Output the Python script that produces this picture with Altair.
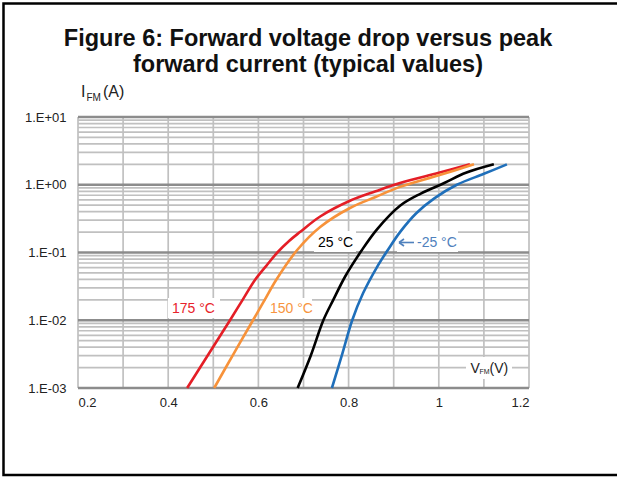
import altair as alt
import pandas as pd

# ---- data ----
series_names = ["175", "150", "25", "-25"]
series_colors = ["#e41e26", "#f7923a", "#000000", "#1f6fba"]

v175 = [0.442, 0.490, 0.537, 0.565, 0.592, 0.617, 0.642, 0.668, 0.692, 0.737, 0.803, 0.86, 0.914, 1.0, 1.069]
i175 = [0.001, 0.0032, 0.01, 0.02, 0.039, 0.063, 0.1, 0.148, 0.2, 0.34, 0.58, 0.8, 1.06, 1.5, 2.0]

v150 = [0.502, 0.545, 0.588, 0.614, 0.639, 0.686, 0.737, 0.803, 0.86, 0.914, 1.0, 1.078]
i150 = [0.001, 0.0032, 0.01, 0.02, 0.039, 0.109, 0.238, 0.454, 0.66, 0.93, 1.38, 2.0]

v25 = [0.687, 0.716, 0.744, 0.766, 0.793, 0.828, 0.863, 0.914, 0.96, 1.012, 1.06, 1.122]
i25 = [0.001, 0.003, 0.01, 0.02, 0.045, 0.105, 0.22, 0.49, 0.74, 1.06, 1.5, 2.0]

vm25 = [0.763, 0.786, 0.808, 0.832, 0.863, 0.887, 0.914, 0.95, 0.99, 1.04, 1.1, 1.151]
im25 = [0.001, 0.0032, 0.01, 0.025, 0.061, 0.109, 0.2, 0.38, 0.63, 1.0, 1.45, 2.0]

x_ticks = [0.2, 0.4, 0.6, 0.8, 1.0, 1.2]
x_grid = [0.2, 0.3, 0.4, 0.5, 0.6, 0.7, 0.8, 0.9, 1.0, 1.1, 1.2]
y_ticks = [0.001, 0.01, 0.1, 1.0, 10.0]
y_tick_labels = ["1.E-03", "1.E-02", "1.E-01", "1.E+00", "1.E+01"]
y_minor = [k * d for d in [0.001, 0.01, 0.1, 1.0] for k in range(2, 10)]

title_lines = ["Figure 6: Forward voltage drop versus peak", "forward current (typical values)"]

# ---- build tables ----
rows = []
for name, vs, iis in [("175", v175, i175), ("150", v150, i150), ("25", v25, i25), ("-25", vm25, im25)]:
    for k, (v, i) in enumerate(zip(vs, iis)):
        rows.append({"T": name, "V": v, "I": i, "o": k})
curves = pd.DataFrame(rows)

W, H = 451, 271
FONT = "Liberation Sans"

xscale = alt.Scale(domain=[0.2, 1.2], nice=False, zero=False)
yscale = alt.Scale(type="log", domain=[0.001, 10], nice=False)

label_expr = ""
for val, lab in zip(y_ticks, y_tick_labels):
    label_expr += f"abs(datum.value - {val}) < {val}*0.01 ? '{lab}' : "
label_expr += "''"

xaxis = alt.Axis(values=x_ticks, format="~g", grid=False, ticks=False, domain=False,
                 labelFont=FONT, labelFontSize=13, labelColor="#222", labelPadding=8, title=None)
yaxis = alt.Axis(values=y_ticks, labelExpr=label_expr, grid=False, ticks=False, domain=False,
                 labelFont=FONT, labelFontSize=13, labelColor="#222", labelPadding=12, title=None)

one = pd.DataFrame({"d": [0]})

vgrid = alt.Chart(pd.DataFrame({"V": x_grid})).mark_rule(color="#c0c0c0", strokeWidth=1.7).encode(
    x=alt.X("V:Q", scale=xscale, axis=xaxis), y=alt.value(0), y2=alt.value(H))

hminor = alt.Chart(pd.DataFrame({"I": y_minor})).mark_rule(color="#c0c0c0", strokeWidth=1.7).encode(
    y=alt.Y("I:Q", scale=yscale, axis=yaxis), x=alt.value(0), x2=alt.value(W))

hmajor = alt.Chart(pd.DataFrame({"I": y_ticks})).mark_rule(color="#8c8c8c", strokeWidth=2.5).encode(
    y=alt.Y("I:Q", scale=yscale, axis=yaxis), x=alt.value(0), x2=alt.value(W))


def box(x1, x2, y1, y2, color="white"):
    return alt.Chart(one).mark_rect(color=color).encode(
        x=alt.value(x1), x2=alt.value(x2), y=alt.value(y1), y2=alt.value(y2))


def txt(s, x, y, size=14, color="#000", font=FONT, align="left", weight="normal"):
    return alt.Chart(one).mark_text(align=align, baseline="alphabetic", font=font, fontSize=size,
                                    color=color, fontWeight=weight).encode(
        x=alt.value(x), y=alt.value(y), text=alt.value(s))


def seg(x1, y1, x2, y2, color, width=1.6):
    return alt.Chart(one).mark_rule(color=color, strokeWidth=width).encode(
        x=alt.value(x1), y=alt.value(y1), x2=alt.value(x2), y2=alt.value(y2))


boxes = [
    box(90, 142, 181, 201),     # 175
    box(188, 234, 181, 201),    # 150
    box(236, 278, 114, 135),    # 25
    box(319, 380, 114, 135),    # -25
    box(388, 434, 240, 262),    # V_FM(V)
]

lines = alt.Chart(curves).mark_line(strokeWidth=2.6, interpolate="catmull-rom").encode(
    x=alt.X("V:Q", scale=xscale, axis=xaxis),
    y=alt.Y("I:Q", scale=yscale, axis=yaxis),
    color=alt.Color("T:N", scale=alt.Scale(domain=series_names, range=series_colors), legend=None),
    detail="T:N",
    order="o:Q",
)

BLUE_T = "#4f81bd"
texts = [
    txt(title_lines[0], 230, -71, size=23.5, weight="bold", align="center", color="#111"),
    txt(title_lines[1], 230, -45, size=23.5, weight="bold", align="center", color="#111"),
    txt("I", 3, -20, size=16, color="#222"),
    txt("FM", 8.5, -16, size=10, color="#222"),
    txt("(A)", 25, -20, size=16, color="#222"),
    txt("V", 392.5, 256, size=14, color="#222"),
    txt("FM", 401.5, 257, size=7, color="#222"),
    txt("(V)", 411.5, 256, size=14, color="#222"),
    txt("175  °C", 94, 196, size=14, color="#e8232b"),
    txt("150 °C", 192, 196, size=14, color="#f7953f"),
    txt("25 °C", 240, 130, size=14, color="#000"),
    txt("-25 °C", 339, 130, size=14, color=BLUE_T),
    seg(321, 125.5, 336, 125.5, BLUE_T),
    seg(321, 125.5, 326, 122, BLUE_T),
    seg(321, 125.5, 326, 129, BLUE_T),
]

# outer frame: one stroked rectangle whose right side lies beyond the canvas
frame = alt.Chart(one).mark_rect(fill="transparent", stroke="#000", strokeWidth=2.5).encode(
    x=alt.value(-74.5), x2=alt.value(560), y=alt.value(-113.5), y2=alt.value(358))

chart = alt.layer(vgrid, hminor, hmajor, *boxes, lines, *texts, frame).properties(
    width=W, height=H,
    autosize=alt.AutoSizeParams(type="none"),
    padding={"left": 78, "top": 117, "right": 88, "bottom": 89},
    background="white",
).configure_view(stroke=None)

chart.save("out.html", embed_options={"renderer": "svg", "actions": False})
